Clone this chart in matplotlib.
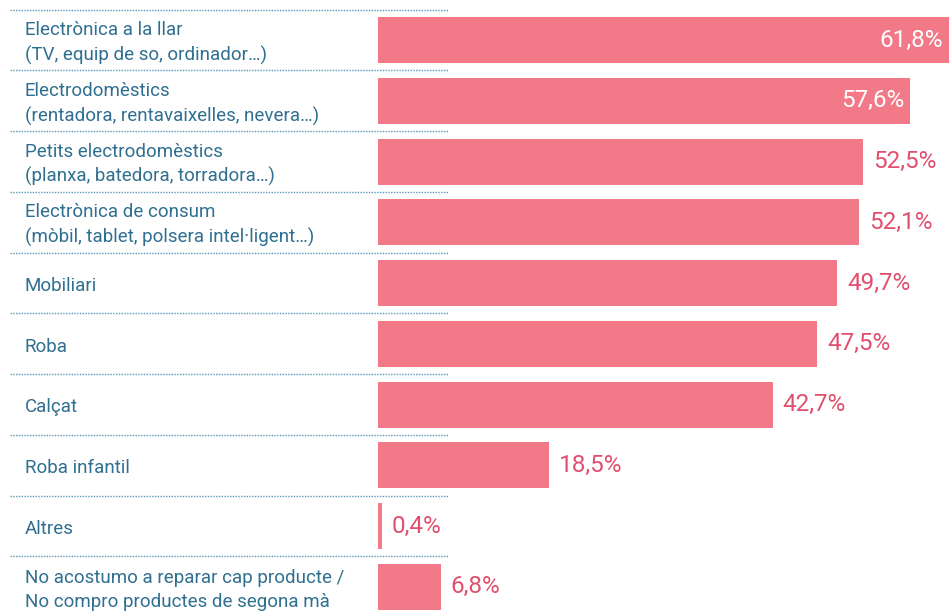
import matplotlib
matplotlib.use("Agg")
import matplotlib.pyplot as plt
import matplotlib.transforms as mtransforms

categories = [
    "Electrònica a la llar\n(TV, equip de so, ordinador…)",
    "Electrodomèstics\n(rentadora, rentavaixelles, nevera…)",
    "Petits electrodomèstics\n(planxa, batedora, torradora…)",
    "Electrònica de consum\n(mòbil, tablet, polsera intel·ligent…)",
    "Mobiliari",
    "Roba",
    "Calçat",
    "Roba infantil",
    "Altres",
    "No acostumo a reparar cap producte /\nNo compro productes de segona mà",
]
values = [61.8, 57.6, 52.5, 52.1, 49.7, 47.5, 42.7, 18.5, 0.4, 6.8]
inside = [True, True, False, False, False, False, False, False, False, False]

bar_color = "#f27a88"
value_color = "#e0506e"
text_color = "#2f6f90"
line_color = "#5a97bd"

W, H = 949, 613
fig = plt.figure(figsize=(W / 100, H / 100), dpi=100)
x0 = 378
ax = fig.add_axes([x0 / W, 0, (W - x0) / W, 1])
ax.set_axis_off()

pitch = 60.75
top = 40
ax.set_ylim((H - top) / pitch, -top / pitch)
ax.set_xlim(0, 61.8)

ypos = list(range(len(values)))
bars = ax.barh(ypos, values, height=46 / pitch, color=bar_color)

# dotted separators under the labels column
trans = mtransforms.blended_transform_factory(fig.transFigure, ax.transData)
for i in ypos:
    ax.plot([10 / W, 448 / W], [i - 0.5, i - 0.5], transform=trans,
            color=line_color, lw=1.0, ls=(0, (1, 1)), clip_on=False)

for i, (cat, v) in enumerate(zip(categories, values)):
    ax.annotate(cat, (25 / W, i), xycoords=trans, xytext=(0, -3),
                textcoords="offset pixels", ha="left", va="center",
                fontsize=13.5, color=text_color, family="Roboto",
                linespacing=1.45)
    lbl = f"{v:.1f}%".replace(".", ",")
    if inside[i]:
        ax.annotate(lbl, (v, i), xytext=(-6, 0), textcoords="offset pixels",
                    ha="right", va="center", fontsize=17.5, color="white",
                    family="Roboto")
    else:
        ax.annotate(lbl, (v, i), xytext=(10, 0), textcoords="offset pixels",
                    ha="left", va="center", fontsize=17.5, color=value_color,
                    family="Roboto")

fig.savefig("out.png", dpi=100)
